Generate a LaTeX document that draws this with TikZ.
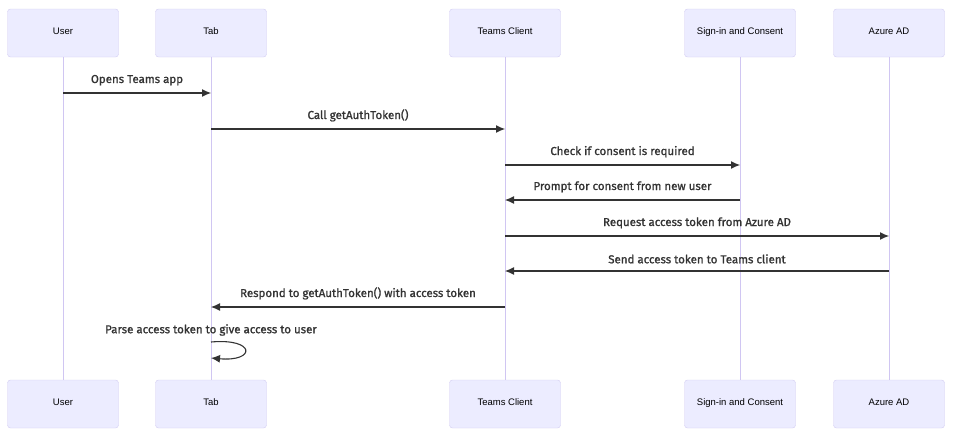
\documentclass[tikz,border=0pt]{standalone}
\usepackage{fontspec}
\setmainfont{Liberation Sans}
\newfontfamily\msgfont[FakeBold=1.2]{Fira Sans}
\usepackage{tikz}
\usetikzlibrary{calc,arrows.meta}

\definecolor{actorfill}{HTML}{ECECFF}
\definecolor{actorline}{HTML}{D2CCF2}
\definecolor{lifeline}{HTML}{D0C6F2}
\definecolor{msgline}{HTML}{333333}

\tikzset{
  actor/.style={draw=actorline, fill=actorfill, rounded corners=3pt,
    minimum width=111pt, minimum height=48pt, text depth=3pt,
    font=\fontsize{9.5}{11}\selectfont},
  life/.style={draw=lifeline, line width=1pt},
  msg/.style={draw=msgline, line width=1.1pt, -{Latex[length=9pt,width=8pt]}},
  msgtxt/.style={text=msgline, font=\msgfont\fontsize{11.5}{13}\selectfont, inner sep=0pt}
}

\begin{document}
\begin{tikzpicture}[x=1pt,y=-1pt]
\useasboundingbox (0,0) rectangle (953,439);
%actors, top and bottom
\foreach \a/\x/\txt in {user/63/User, tab/211/Tab, client/505/Teams Client,
    consent/740/Sign-in and Consent, azure/889/Azure AD}
{
  \node[actor] (\a-t) at (\x,33) {\txt};
  \node[actor] (\a-b) at (\x,404) {\txt};
  \draw[life] (\a-t) -- (\a-b);
}
%messages
\foreach \from/\to/\y/\txt in {user/tab/93/Opens Teams app,
    tab/client/129/Call getAuthToken(),
    client/consent/165/Check if consent is required,
    consent/client/200/Prompt for consent from new user,
    client/azure/236/Request access token from Azure AD,
    azure/client/271/Send access token to Teams client,
    client/tab/307/Respond to getAuthToken() with access token}
{
  \draw[msg] (\from-t |- 0,\y) -- (\to-t |- 0,\y)
    node[msgtxt, midway, above=7pt] {\txt};
}
%self message
\coordinate (loop-a) at (tab-t |- 0,342);
\coordinate (loop-b) at (tab-t |- 0,358);
\node[msgtxt] (parse) at (tab-t |- 0,330) {Parse access token to give access to user};
\draw[msg] (loop-a) .. controls ($(loop-a)+(45,-4)$) and ($(loop-b)+(45,4)$) .. (loop-b);
\end{tikzpicture}
\end{document}
